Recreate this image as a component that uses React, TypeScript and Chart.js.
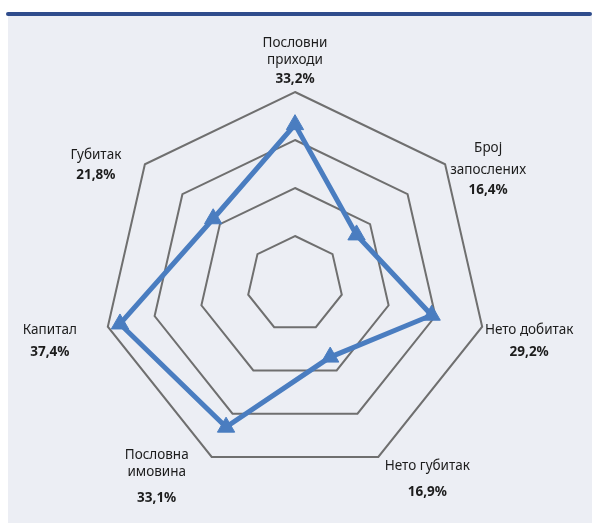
import React, { useEffect, useRef } from "react";
import { Chart, registerables } from "chart.js";

Chart.register(...registerables);

const categories: string[][] = [
  ["Пословни", "приходи"],
  ["Број", "запослених"],
  ["Нето добитак"],
  ["Нето губитак"],
  ["Пословна", "имовина"],
  ["Капитал"],
  ["Губитак"],
];
const values: number[] = [33.2, 16.4, 29.2, 16.9, 33.1, 37.4, 21.8];
const valueLabels: string[] = ["33,2%", "16,4%", "29,2%", "16,9%", "33,1%", "37,4%", "21,8%"];

// label layout: offset of first line from the outer vertex, line gaps, gap before value
const labelLayout = [
  { dx: 0, dy: -49, gap: 17, vgap: 19 },
  { dx: 43, dy: -16, gap: 22, vgap: 20 },
  { dx: 47, dy: 3, gap: 22, vgap: 22 },
  { dx: 49, dy: 9, gap: 22, vgap: 26 },
  { dx: -55, dy: -2, gap: 17, vgap: 26 },
  { dx: -58, dy: 3, gap: 22, vgap: 22 },
  { dx: -49, dy: -9, gap: 20, vgap: 20 },
];

const FONT = '"Noto Sans", sans-serif';

const labelPlugin = {
  id: "customLabels",
  afterDraw(chart: any) {
    const scale = chart.scales.r;
    const ctx = chart.ctx;
    ctx.save();
    ctx.fillStyle = "#1c1c1c";
    ctx.textAlign = "center";
    ctx.textBaseline = "middle";
    categories.forEach((lines, i) => {
      const p = scale.getPointPosition(i, scale.drawingArea);
      const l = labelLayout[i];
      let x = p.x + l.dx;
      let y = p.y + l.dy;
      ctx.font = `400 13.5px ${FONT}`;
      lines.forEach((t, j) => {
        if (j > 0) y += l.gap;
        ctx.fillText(t, x, y);
      });
      y += l.vgap;
      ctx.font = `700 13.5px ${FONT}`;
      ctx.fillText(valueLabels[i], x, y);
    });
    ctx.restore();
  },
};

export default function App() {
  const ref = useRef<HTMLCanvasElement | null>(null);
  useEffect(() => {
    if (!ref.current) return;
    const chart = new Chart(ref.current, {
      type: "radar",
      data: {
        labels: categories.map((c) => c.join(" ")),
        datasets: [
          {
            data: values,
            borderColor: "#4a7dc0",
            backgroundColor: "rgba(0,0,0,0)",
            borderWidth: 5,
            pointStyle: "triangle",
            pointRadius: 10,
            pointBorderWidth: 1,
            pointBackgroundColor: "#4a7dc0",
            pointBorderColor: "#4a7dc0",
            fill: false,
          },
        ],
      },
      options: {
        responsive: false,
        animation: false,
        layout: { padding: { top: 92, bottom: 47, left: 0, right: 2 } },
        plugins: { legend: { display: false }, tooltip: { enabled: false } },
        scales: {
          r: {
            min: 0,
            max: 40,
            ticks: { display: false, stepSize: 10 },
            grid: { color: "#6f6f6f", lineWidth: 2, circular: false },
            angleLines: { display: false },
            pointLabels: { display: false },
          },
        },
      },
      plugins: [labelPlugin],
    });
    return () => chart.destroy();
  }, []);
  return (
    <div style={{ position: "fixed", left: 0, top: 0, width: 592, height: 523, background: "#ffffff", overflow: "hidden" }}>
      <div style={{ position: "absolute", left: 8, top: 16, width: 584, height: 507, background: "#eceef4" }} />
      <div style={{ position: "absolute", left: 6, top: 12, width: 586, height: 4, background: "#2f4c8c", borderRadius: 2 }} />
      <canvas ref={ref} width={592} height={523} style={{ position: "absolute", left: 0, top: 0, width: 592, height: 523 }} />
    </div>
  );
}
